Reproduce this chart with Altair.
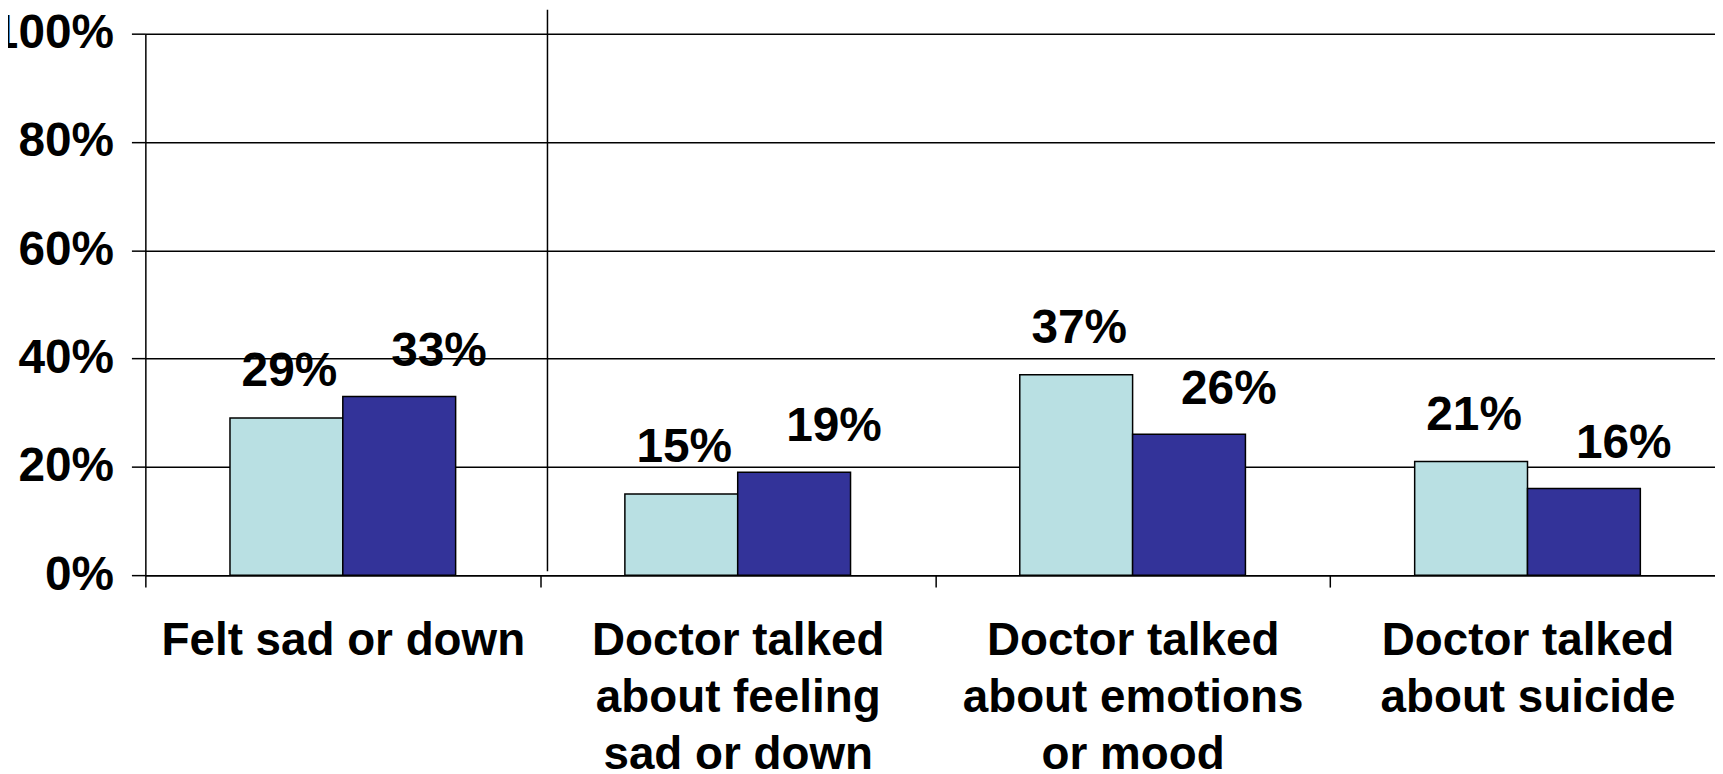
import altair as alt
import pandas as pd

categories = [
    "Felt sad or down",
    "Doctor talked|about feeling|sad or down",
    "Doctor talked|about emotions|or mood",
    "Doctor talked|about suicide",
]
series_names = ["Series 1", "Series 2"]
series1_values = [29, 15, 37, 21]
series2_values = [33, 19, 26, 16]
y_ticks = [0, 20, 40, 60, 80, 100]
colors = ["#B9E0E3", "#333399"]

rows = []
for c, a, b in zip(categories, series1_values, series2_values):
    rows.append({"category": c, "series": series_names[0], "value": a})
    rows.append({"category": c, "series": series_names[1], "value": b})
df = pd.DataFrame(rows)

FONT = "Liberation Sans"

x = alt.X(
    "category:N",
    sort=categories,
    scale=alt.Scale(paddingInner=0, paddingOuter=0),
    axis=alt.Axis(
        title=None,
        labelAngle=0,
        labelExpr="split(datum.label, '|')",
        labelFont=FONT,
        labelFontSize=46,
        labelFontWeight="bold",
        labelColor="black",
        labelLineHeight=57,
        labelPadding=32,
        labelLimit=1000,
        tickBand="extent",
        tickSize=12,
        tickColor="black",
        tickWidth=1.5,
        domainColor="black",
        domainWidth=1.5,
        grid=False,
    ),
)
xo = alt.XOffset("series:N", sort=series_names,
                 scale=alt.Scale(paddingInner=0, paddingOuter=0.75))
y = alt.Y(
    "value:Q",
    scale=alt.Scale(domain=[0, 100], nice=False),
    axis=alt.Axis(
        title=None,
        values=y_ticks,
        labelExpr="datum.value + '%'",
        labelFont=FONT,
        labelFontSize=48,
        labelFontWeight="bold",
        labelColor="black",
        labelPadding=18,
        grid=True,
        gridColor="black",
        gridWidth=1.5,
        domainColor="black",
        domainWidth=1.5,
        tickColor="black",
        tickSize=14,
        tickWidth=1.5,
    ),
)

base = alt.Chart(df)

bars = base.mark_bar(stroke="black", strokeWidth=1.5).encode(
    x=x,
    xOffset=xo,
    y=y,
    color=alt.Color("series:N", scale=alt.Scale(domain=series_names, range=colors), legend=None),
)

def label_layer(name, dx, dy):
    return (
        base.transform_filter(alt.datum.series == name)
        .transform_calculate(label="datum.value + '%'")
        .mark_text(dx=dx, dy=dy, baseline="alphabetic", fontSize=48, font=FONT,
                   fontWeight="bold", color="black")
        .encode(x=x, xOffset=xo, y=y, text="label:N")
    )

lab1 = label_layer(series_names[0], 3, -32)
lab2 = label_layer(series_names[1], 40, -31)

stray = alt.Chart(alt.Data(values=[{"a": 1}])).mark_rule(
    color="black", strokeWidth=1.5, clip=False
).encode(x=alt.value(404), y=alt.value(-24), y2=alt.value(540))

chart = (
    alt.layer(bars, lab1, lab2, stray)
    .properties(
        width=1587,
        height=544,
        autosize=alt.AutoSizeParams(type="none"),
        padding={"left": 138, "top": 24, "right": -10, "bottom": 198},
        background="white",
    )
    .configure_view(stroke=None)
)

chart.save("out.html", embed_options={"renderer": "svg", "actions": False})
